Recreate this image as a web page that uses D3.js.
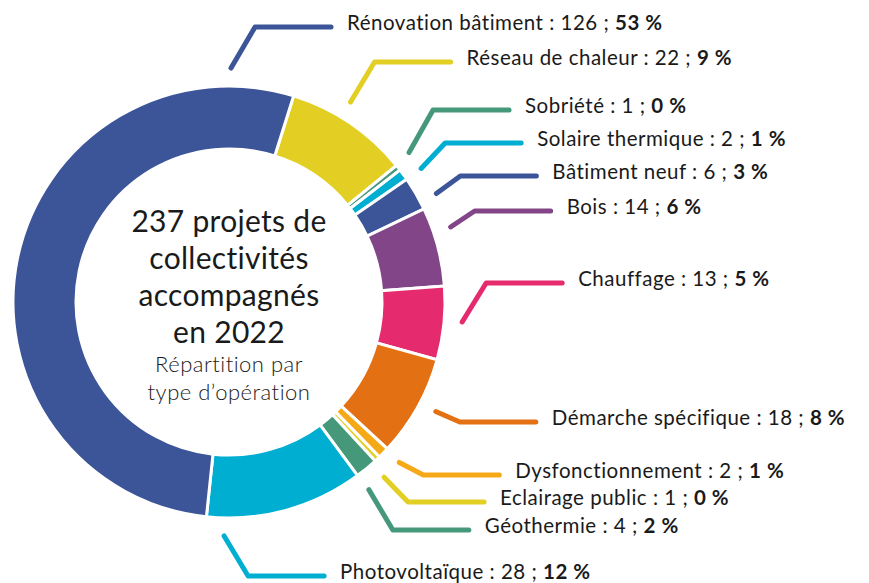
<!DOCTYPE html>
<html>
<head>
<meta charset="utf-8">
<script src="https://cdn.jsdelivr.net/npm/d3@7"></script>
<style>
  body { margin: 0; background: #fff; }
  svg { display: block; font-family: Lato, "Open Sans", sans-serif; }
</style>
</head>
<body>
<script>
// data, clockwise starting at "Réseau de chaleur"
const categories = [
  "Réseau de chaleur",
  "Sobriété",
  "Solaire thermique",
  "Bâtiment neuf",
  "Bois",
  "Chauffage",
  "Démarche spécifique",
  "Dysfonctionnement",
  "Eclairage public",
  "Géothermie",
  "Photovoltaïque",
  "Rénovation bâtiment",
];
const counts = [22, 1, 2, 6, 14, 13, 18, 2, 1, 4, 28, 126];
const percents = [9, 0, 1, 3, 6, 5, 8, 1, 0, 2, 12, 53];
const colors = [
  "#E3CF23", "#45997A", "#00AED1", "#3C5498", "#824688", "#E62A6E",
  "#E37012", "#F6A917", "#E3CF23", "#45997A", "#00AED1", "#3C5498",
];
const titleLines = ["237 projets de", "collectivités", "accompagnés", "en 2022"];
const subLines = ["Répartition par", "type d’opération"];

// label layout (leader start angle in degrees, y of the horizontal part)
const leaderAngles = [31.3, 50.3, 55.2, 62.4, 71.3, 94.9, 117.9, 133.3, 138.5, 143.3, 181.2, 0.5];
const leaderYs = [62, 110, 143, 176, 211, 283, 422, 475, 502, 530, 576, 27];

const width = 869;
const height = 583;
const cx = 229;
const cy = 302;
const outerR = 216;
const innerR = 153;
const leaderR = 234;

const svg = d3
  .select("body")
  .append("svg")
  .attr("width", width)
  .attr("height", height);

const rad = (deg) => (deg * Math.PI) / 180;
const start = rad(17.4);

const pie = d3
  .pie()
  .sort(null)
  .startAngle(start)
  .endAngle(start + 2 * Math.PI);

const arc = d3.arc().innerRadius(innerR).outerRadius(outerR);

const donut = svg.append("g").attr("transform", `translate(${cx},${cy})`);

donut
  .selectAll("path")
  .data(pie(counts))
  .enter()
  .append("path")
  .attr("d", arc)
  .attr("fill", (d, i) => colors[i])
  .attr("stroke", "#fff")
  .attr("stroke-width", 3);

// center text
const center = svg
  .append("text")
  .attr("text-anchor", "middle")
  .attr("fill", "#1a1a1a");

titleLines.forEach((t, i) => {
  center
    .append("tspan")
    .attr("x", cx)
    .attr("y", 232 + i * 37)
    .attr("font-size", 30)
    .attr("letter-spacing", 0.3)
    .text(t);
});
subLines.forEach((t, i) => {
  center
    .append("tspan")
    .attr("x", cx)
    .attr("y", 372 + i * 28)
    .attr("font-size", 22)
    .attr("letter-spacing", 0.5)
    .attr("font-weight", 300)
    .text(t);
});

// leaders + labels
const polar = (deg, r) => [cx + r * Math.sin(rad(deg)), cy - r * Math.cos(rad(deg))];

const labels = svg.append("g");

categories.forEach((name, i) => {
  const [x0, y0] = polar(leaderAngles[i], leaderR);
  const y1 = leaderYs[i];
  const x1 = x0 + 24;
  const x2 = x1 + 76;

  labels
    .append("path")
    .attr("d", d3.line()([[x0, y0], [x1, y1], [x2, y1]]))
    .attr("fill", "none")
    .attr("stroke", colors[i])
    .attr("stroke-width", 5)
    .attr("stroke-linecap", "round")
    .attr("stroke-linejoin", "round");

  const txt = labels
    .append("text")
    .attr("x", x2 + 16)
    .attr("y", y1 - 5)
    .attr("dominant-baseline", "central")
    .attr("font-size", 20.5)
    .attr("letter-spacing", 0.5)
    .attr("fill", "#1a1a1a");
  txt.append("tspan").text(`${name} : ${counts[i]} ; `);
  txt.append("tspan").attr("font-weight", 700).text(`${percents[i]} %`);
});
</script>
</body>
</html>
